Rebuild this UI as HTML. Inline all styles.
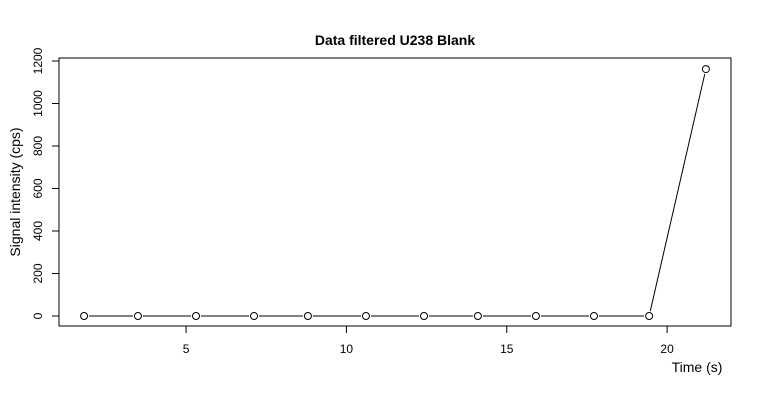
<!DOCTYPE html>
<html><head><meta charset="utf-8"><style>
body{margin:0;background:#fff}
svg{display:block;font-family:"Liberation Sans",sans-serif}
</style></head><body>
<svg id="chart" width="760" height="400">
<text x="395" y="45" text-anchor="middle" font-weight="bold" font-size="14">Data filtered U238 Blank</text>
<rect x="59" y="58" width="672" height="268" fill="none" stroke="#000"/>
<text x="697" y="372" text-anchor="middle" font-size="14">Time (s)</text>
<text transform="translate(20,192) rotate(-90)" text-anchor="middle" font-size="14">Signal intensity (cps)</text>
<g id="axes"></g><g id="marks"></g>
</svg>
<script>
const xValues=[1.82,3.50,5.31,7.12,8.80,10.61,12.42,14.10,15.91,17.72,19.44,21.21];
const yValues=[0,0,0,0,0,0,0,0,0,0,0,1162];
const xTicks=[5,10,15,20];
const yTicks=[0,200,400,600,800,1000,1200];
const NS="http://www.w3.org/2000/svg";
function sx(v){return 25.7+v*32.07;}
function sy(v){return 316-v*0.2125;}
function mk(t,a,p){const e=document.createElementNS(NS,t);for(const k in a)e.setAttribute(k,a[k]);p.appendChild(e);return e;}
const ax=document.getElementById('axes'),mg=document.getElementById('marks');
mk('line',{x1:sx(5),x2:sx(20),y1:326,y2:326,stroke:'#000'},ax);
xTicks.forEach(t=>{
 const l=mk('line',{x1:sx(t),x2:sx(t),y1:326,y2:333,stroke:'#000'},ax);
 
 
 const tx=mk('text',{x:sx(t),y:353,'text-anchor':'middle','font-size':12},ax);tx.textContent=t;
 
 
});
mk('line',{x1:59,x2:59,y1:sy(0),y2:sy(1200),stroke:'#000'},ax);
yTicks.forEach(t=>{
 const l=mk('line',{x1:52,x2:59,y1:sy(t),y2:sy(t),stroke:'#000'},ax);
 
 
 const tx=mk('text',{transform:`translate(42,${sy(t)}) rotate(-90)`,'text-anchor':'middle','font-size':12},ax);tx.textContent=t;
 
 
});
const r=3.5,gap=5;
for(let i=0;i<xValues.length-1;i++){
 const x1=sx(xValues[i]),y1=sy(yValues[i]),x2=sx(xValues[i+1]),y2=sy(yValues[i+1]);
 const d=Math.hypot(x2-x1,y2-y1),ux=(x2-x1)/d,uy=(y2-y1)/d;
 const l=mk('line',{x1:x1+ux*gap,y1:y1+uy*gap,x2:x2-ux*gap,y2:y2-uy*gap,stroke:'#000'},mg);
 
 
}
xValues.forEach((x,i)=>{
 const c=mk('circle',{cx:sx(x),cy:sy(yValues[i]),r:r,fill:'none',stroke:'#000'},mg);
 
 
});
</script>
</body></html>
